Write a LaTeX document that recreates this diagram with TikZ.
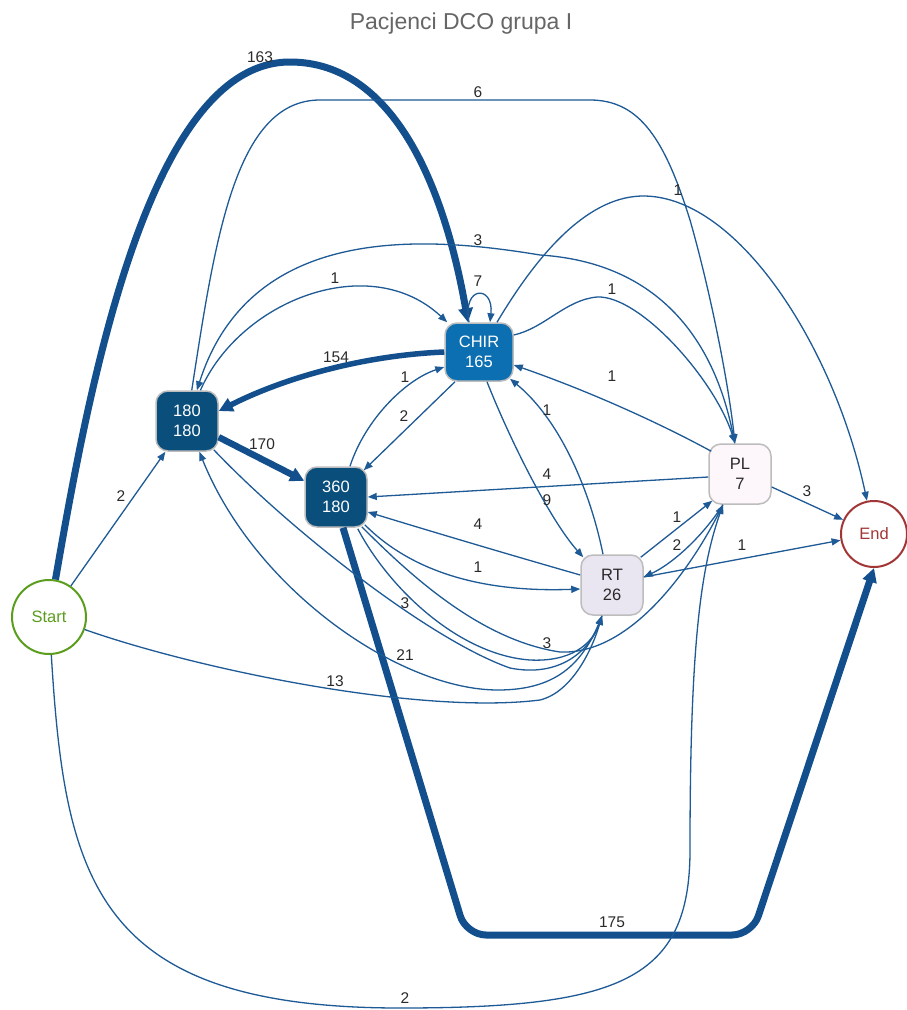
\documentclass[tikz,border=0pt]{standalone}
\usepackage{fontspec}
\setmainfont{Liberation Sans}
\usetikzlibrary{arrows.meta}
\definecolor{ecol}{HTML}{1D5A96}
\definecolor{tcol}{HTML}{124F8C}
\definecolor{chirf}{HTML}{0B6FB1}
\definecolor{darkf}{HTML}{0A4E7C}
\definecolor{plf}{HTML}{FDF6FA}
\definecolor{rtf}{HTML}{E9E5F1}
\definecolor{bord}{HTML}{BDBDBD}
\definecolor{startc}{HTML}{5B9E1E}
\definecolor{endc}{HTML}{A23636}
\definecolor{labc}{HTML}{2A2A2A}
\definecolor{titc}{HTML}{666666}
\newcommand\myNodeFont{\fontsize{16.5}{20}\selectfont}
\newcommand\myLabFont{\fontsize{15.5}{15.5}\selectfont}
\tikzset{
  box/.style={rectangle, rounded corners=12pt, draw=bord, line width=1.5pt,
    minimum width=62pt, minimum height=60pt, inner sep=0pt, align=center, font=\myNodeFont},
  thin/.style={draw=ecol, line width=1.3pt, -{Triangle[length=9pt,width=7pt]}},
  fat/.style={draw=tcol, line width=#1, -{Triangle[length=14pt,width=14pt]}},
  lab/.style={font=\myLabFont, text=labc, inner sep=0pt},
}
\begin{document}
\begin{tikzpicture}[x=1pt,y=-1pt]
\useasboundingbox (0,0) rectangle (906,1010);
\fill[white] (0,0) rectangle (906,1010);
\node[font=\fontsize{23}{23}\selectfont, text=titc] (title) at (461,24) {Pacjenci DCO grupa I};

% nodes
\node[box, fill=chirf, text=white, minimum width=68pt, minimum height=58pt] (chir) at (479,352) {CHIR\\165};
\node[box, fill=darkf, text=white] (n180) at (187,421) {180\\180};
\node[box, fill=darkf, text=white] (n360) at (336,497) {360\\180};
\node[box, fill=plf, text=labc] (pl) at (740,474) {PL\\7};
\node[box, fill=rtf, text=labc] (rt) at (612,585) {RT\\26};
\node[circle, draw=endc, line width=2pt, minimum size=66pt, inner sep=0pt, text=endc, font=\fontsize{16.5}{16.5}\selectfont] (endn) at (874,534) {End};
\node[circle, draw=startc, line width=2pt, minimum size=74pt, inner sep=0pt, text=startc, font=\fontsize{16.5}{16.5}\selectfont] (start) at (49,617) {Start};

% thick edges
\draw[fat=7pt] (start) .. controls (90,380) and (150,62) .. (290,62) .. controls (395,62) and (445,190) .. ([xshift=-11pt]chir.north);
\draw[fat=5.5pt] (chir.west) .. controls (370,355) and (290,375) .. ([yshift=10pt]n180.east);
\draw[fat=6.5pt] (n180) -- (n360);
\draw[fat=7pt, rounded corners=20pt] ([xshift=7pt]n360.south) -- (466,935) -- (752,935) -- (endn.south);

% self loop
\draw[thin] ([xshift=-10pt]chir.north) .. controls (462,285) and (494,285) .. ([xshift=11pt]chir.north);

% thin edges
\draw[thin] (start) -- (n180);
\draw[thin] (n180) .. controls (240,300) and (370,250) .. (chir);
\draw[thin] (pl) .. controls (715,330) and (650,262) .. (540,255) .. controls (420,235) and (250,225) .. (n180);
\draw[thin] (n180) .. controls (215,240) and (235,100) .. (320,100) -- (590,100) .. controls (640,100) and (665,140) .. (690,220) .. controls (710,290) and (728,380) .. ([xshift=-5pt]pl.north);
\draw[thin] ([xshift=18pt]chir.north) .. controls (540,250) and (590,195) .. (645,196) .. controls (740,198) and (835,350) .. (endn);
\draw[thin] ([yshift=17pt]chir.east) .. controls (545,328) and (565,300) .. (597,297) .. controls (640,295) and (715,380) .. ([xshift=-5pt]pl.north);
\draw[thin] ([xshift=3pt,yshift=-8pt]pl.north west) .. controls (650,418) and (580,388) .. ([yshift=-13pt]chir.east);
\draw[thin] ([xshift=14pt]n360.north) .. controls (365,420) and (405,380) .. ([yshift=-15pt]chir.west);
\draw[thin] ([xshift=-24pt]chir.south) -- ([xshift=-4pt,yshift=-4pt]n360.north east);
\draw[thin] ([xshift=8pt]chir.south) .. controls (510,440) and (550,520) .. ([xshift=3pt,yshift=-3pt]rt.north west);
\draw[thin] ([xshift=-9pt]rt.north) .. controls (590,490) and (560,420) .. ([xshift=31pt,yshift=3pt]chir.south);
\draw[thin] ([yshift=-3pt]pl.west) -- (n360.east);
\draw[thin] ([yshift=10pt]rt.west) .. controls (500,552) and (420,528) .. ([yshift=-15pt]n360.east);
\draw[thin] ([xshift=-3pt,yshift=3pt]n360.south east) .. controls (420,580) and (500,592) .. ([yshift=-4pt]rt.west);
\draw[thin] ([xshift=-3pt,yshift=-3pt]rt.north east) -- ([xshift=4pt,yshift=4pt]pl.south west);
\draw[thin] ([xshift=-17pt]pl.south) .. controls (700,540) and (670,565) .. ([yshift=8pt]rt.east);
\draw[thin] ([yshift=8pt]rt.east) -- (endn);
\draw[thin] ([yshift=-13pt]pl.east) -- (endn);
% edges into RT bottom
\draw[thin] (start) .. controls (200,670) and (420,715) .. (540,700) .. controls (572,692) and (592,650) .. ([xshift=-10pt]rt.south);
\draw[thin] ([xshift=-10pt]rt.south) .. controls (585,660) and (560,690) .. (498,690) .. controls (400,690) and (255,590) .. (n180);
\draw[thin] ([xshift=-5pt,yshift=2pt]n180.south east) .. controls (290,530) and (430,640) .. (510,668) .. controls (560,678) and (590,650) .. ([xshift=-10pt]rt.south);
\draw[thin] ([xshift=-10pt,yshift=-1pt]n360.south east) .. controls (390,590) and (460,655) .. (530,660) .. controls (570,662) and (592,645) .. ([xshift=-10pt]rt.south);
% edges into PL bottom
\draw[thin] ([xshift=-6pt,yshift=1pt]n360.south east) .. controls (410,575) and (480,640) .. (560,652) .. controls (630,655) and (690,570) .. ([xshift=-17pt]pl.south);
\draw[thin] (start) .. controls (65,880) and (95,1008) .. (400,1008) .. controls (620,1008) and (690,980) .. (690,850) .. controls (690,650) and (700,570) .. ([xshift=-17pt]pl.south);

% labels
\node[lab] (l163) at (260,57) {163};
\node[lab] (l6) at (478,92) {6};
\node[lab] (l1a) at (678,190) {1};
\node[lab] (l3a) at (478,240) {3};
\node[lab] (l7) at (478,281) {7};
\node[lab] (l1b) at (335,278) {1};
\node[lab] (l1c) at (612,289) {1};
\node[lab] (l154) at (336,357) {154};
\node[lab] (l1d) at (612,376) {1};
\node[lab] (l1e) at (405,377) {1};
\node[lab] (l2a) at (404,416) {2};
\node[lab] (l1f) at (547,410) {1};
\node[lab] (l170) at (262,444) {170};
\node[lab] (l2b) at (121,496) {2};
\node[lab] (l4a) at (547,474) {4};
\node[lab] (l9) at (547,500) {9};
\node[lab] (l3b) at (807,491) {3};
\node[lab] (l1g) at (677,517) {1};
\node[lab] (l4b) at (478,524) {4};
\node[lab] (l2c) at (677,545) {2};
\node[lab] (l1h) at (742,545) {1};
\node[lab] (l1i) at (478,567) {1};
\node[lab] (l3c) at (405,603) {3};
\node[lab] (l3d) at (547,643) {3};
\node[lab] (l21) at (405,655) {21};
\node[lab] (l13) at (335,681) {13};
\node[lab] (l175) at (612,922) {175};
\node[lab] (l2d) at (405,998) {2};
\end{tikzpicture}
\end{document}
